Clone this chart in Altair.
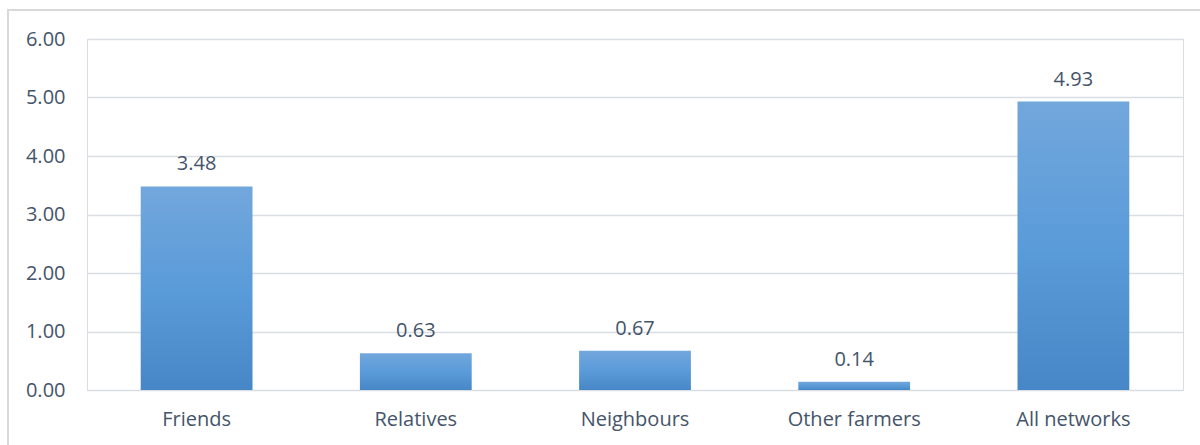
import altair as alt
import pandas as pd

categories = ["Friends", "Relatives", "Neighbours", "Other farmers", "All networks"]
values = [3.48, 0.63, 0.67, 0.14, 4.93]

df = pd.DataFrame({"category": categories, "value": values})

TEXT = "#44546a"
GRID = "#dadde3"
FONT = "Open Sans"
FS = 20

grad = alt.Gradient(
    gradient="linear",
    stops=[
        alt.GradientStop(color="#72a7dc", offset=0),
        alt.GradientStop(color="#5a9bd9", offset=0.5),
        alt.GradientStop(color="#4787c7", offset=1),
    ],
    x1=0, x2=0, y1=0, y2=1,
)

x = alt.X("category:N", sort=categories, title=None,
          scale=alt.Scale(paddingInner=0.49, paddingOuter=0.245),
          axis=alt.Axis(labelAngle=0, labelFontSize=FS, labelColor=TEXT, labelFont=FONT,
                        labelPadding=19, ticks=False, domain=False, grid=False))
y = alt.Y("value:Q", title=None,
          scale=alt.Scale(domain=[0, 6], nice=False),
          axis=alt.Axis(values=[0, 1, 2, 3, 4, 5, 6], format=".2f", labelFontSize=FS,
                        labelColor=TEXT, labelFont=FONT, labelPadding=22, ticks=False,
                        domain=False, grid=True, gridColor=GRID, gridWidth=1.5))

bars = alt.Chart(df).mark_bar(color=grad).encode(x=x, y=y)

labels = alt.Chart(df).mark_text(
    dy=-12, baseline="bottom", fontSize=FS, color=TEXT, font=FONT
).encode(x=alt.X("category:N", sort=categories), y="value:Q", text=alt.Text("value:Q", format=".2f"))

frame = alt.Chart(df).mark_rect(fill=None, stroke="#d9d9d9", strokeWidth=1.5).encode(
    x=alt.value(-79), x2=alt.value(1200), y=alt.value(-29), y2=alt.value(420)
)

chart = alt.layer(frame, bars, labels).properties(
    width=1096, height=351,
    padding={"left": 87, "top": 39, "right": 17, "bottom": 55},
    autosize=alt.AutoSizeParams(type="none"),
).configure_view(stroke=None).configure(background="white")

chart.save("out.html", embed_options={"renderer": "svg", "actions": False})
